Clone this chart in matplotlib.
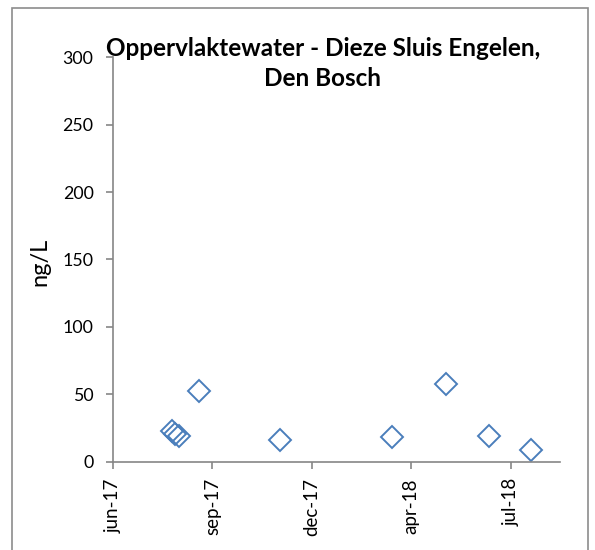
import matplotlib
matplotlib.use("Agg")
import matplotlib.pyplot as plt
import matplotlib.dates as mdates
from matplotlib.patches import Rectangle
import datetime as dt

# Data
dates = ["2017-08-21", "2017-08-24", "2017-08-28", "2017-09-15", "2017-11-30",
         "2018-03-15", "2018-05-04", "2018-06-14", "2018-07-23"]
values = [22.6, 20.4, 18.9, 52.3, 16.0, 18.4, 57.5, 19.1, 8.9]
tick_dates = ["2017-06-27", "2017-09-28", "2017-12-30", "2018-04-02", "2018-07-04"]
tick_labels = ["jun-17", "sep-17", "dec-17", "apr-18", "jul-18"]
x_min, x_max = "2017-06-27", "2018-08-19"
y_ticks = [0, 50, 100, 150, 200, 250, 300]
title_lines = ["Oppervlaktewater - Dieze Sluis Engelen,", "Den Bosch"]

def d(s):
    return mdates.date2num(dt.datetime.strptime(s, "%Y-%m-%d"))

W, H = 595, 550
fig = plt.figure(figsize=(W / 100, H / 100), dpi=100)
fig.patch.set_facecolor("white")

# outer chart frame
fig.add_artist(Rectangle((12 / W, -0.05), (588 - 12) / W, (H - 8) / H + 0.05,
                         transform=fig.transFigure, fill=False,
                         edgecolor="#8c8c8c", linewidth=1.2))

left, right, top, bottom = 113, 560, 57.3, 461.5
ax = fig.add_axes([left / W, (H - bottom) / H, (right - left) / W, (bottom - top) / H])

xs = [d(s) for s in dates]
ax.plot(xs, values, linestyle="none", marker="D", markersize=11.5,
        markerfacecolor="none", markeredgecolor="#4A7EBB", markeredgewidth=1.4,
        clip_on=False)

ax.set_xlim(d(x_min), d(x_max))
ax.set_ylim(0, 300)
ax.set_xticks([d(s) for s in tick_dates])
ax.set_xticklabels(tick_labels, rotation=90, fontsize=13.5, family="Lato")
ax.set_yticks(y_ticks)
ax.set_yticklabels([str(v) for v in y_ticks], fontsize=12.8, family="Lato")

for s in ["top", "right"]:
    ax.spines[s].set_visible(False)
for s in ["left", "bottom"]:
    ax.spines[s].set_color("#868686")
    ax.spines[s].set_linewidth(1.2)
ax.tick_params(axis="both", direction="out", length=5, width=1.2, color="#868686",
               labelcolor="black")
ax.tick_params(axis="y", pad=9)
ax.tick_params(axis="x", pad=7)

fig.text(40 / W, (H - 262) / H, "ng/L", rotation=90, ha="center", va="center",
         fontsize=17, family="Lato")

fig.text(323 / W, (H - 56) / H, title_lines[0], ha="center", va="baseline",
         fontsize=17.5, fontweight="bold", family="Lato")
fig.text(323 / W, (H - 86) / H, title_lines[1], ha="center", va="baseline",
         fontsize=17.5, fontweight="bold", family="Lato")

fig.savefig("out.png", dpi=100)
